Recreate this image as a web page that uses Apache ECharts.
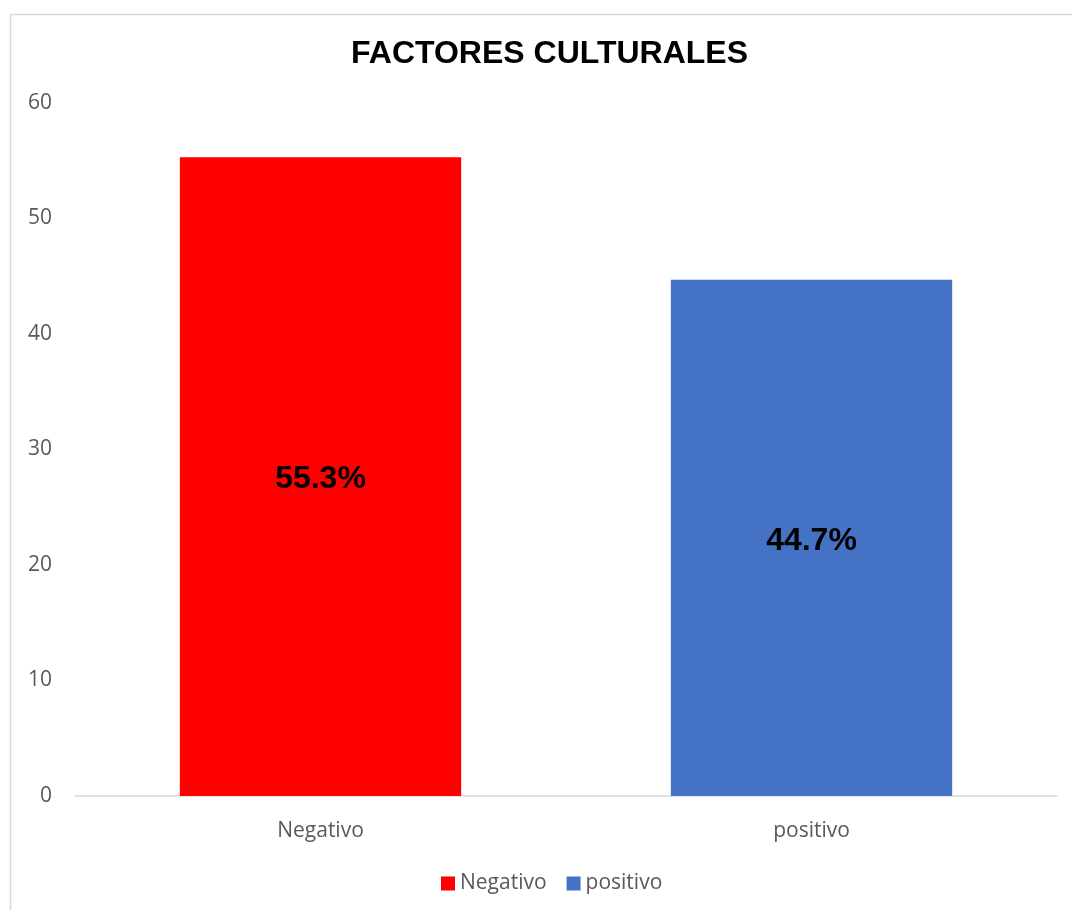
<!DOCTYPE html>
<html>
<head>
<meta charset="utf-8">
<script src="https://cdn.jsdelivr.net/npm/echarts@6/dist/echarts.min.js"></script>
<style>
  html, body { margin: 0; padding: 0; background: #fff; }
  #app { width: 1072px; height: 910px; }
</style>
</head>
<body>
<div id="app"></div>
<script>
// categories and values
const categories = ["Negativo", "positivo"];
const negativo = [55.3, "-"];
const positivo = ["-", 44.7];
const yTicks = [0, 60, 10]; // min, max, interval

const textGray = "#595959";

function barSeries(name, data, color) {
  return {
    name,
    type: "bar",
    stack: "one",
    barWidth: "57.3%",
    data,
    itemStyle: { color },
    label: {
      show: true,
      position: "inside",
      offset: [0, 3],
      formatter: p => p.value.toFixed(1) + "%",
      color: "#000",
      fontFamily: "Liberation Sans",
      fontWeight: "bold",
      fontSize: 32
    }
  };
}

const chart = echarts.init(document.getElementById("app"));
chart.setOption({
  backgroundColor: "#fff",
  animation: false,
  graphic: [{
    type: "rect",
    shape: { x: 10.5, y: 14.5, width: 1200, height: 1200 },
    style: { fill: null, stroke: "#d9d9d9", lineWidth: 1.5 },
    silent: true
  }],
  title: {
    text: "FACTORES CULTURALES",
    left: 346,
    top: 33,
    textStyle: {
      fontFamily: "Liberation Sans",
      fontWeight: "bold",
      fontSize: 32,
      color: "#000"
    }
  },
  legend: {
    bottom: 11,
    left: 436,
    itemWidth: 14,
    itemHeight: 14,
    itemGap: 20,
    icon: "rect",
    textStyle: { fontFamily: "Open Sans", fontSize: 21, color: textGray }
  },
  grid: { left: 75, right: 15, top: 103, bottom: 114, containLabel: false },
  xAxis: {
    type: "category",
    data: categories,
    axisTick: { show: false },
    axisLine: { lineStyle: { color: "#d9d9d9", width: 1.5 } },
    axisLabel: { fontFamily: "Open Sans", fontSize: 21, color: textGray, margin: 25 }
  },
  yAxis: {
    type: "value",
    min: yTicks[0],
    max: yTicks[1],
    interval: yTicks[2],
    splitLine: { show: false },
    axisLine: { show: false },
    axisTick: { show: false },
    axisLabel: { fontFamily: "Open Sans", fontSize: 21, color: textGray, margin: 23 }
  },
  series: [
    barSeries("Negativo", negativo, "#ff0000"),
    barSeries("positivo", positivo, "#4472c4")
  ]
});
</script>
</body>
</html>
